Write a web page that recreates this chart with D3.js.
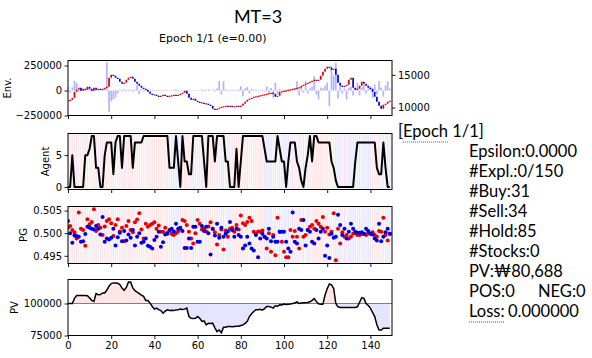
<!DOCTYPE html>
<html><head><meta charset="utf-8">
<script src="https://cdn.jsdelivr.net/npm/d3@7"></script>
<style>body{margin:0;background:#fff}svg{display:block}</style>
</head><body><svg id="c" width="592" height="358"></svg>
<script>
// ---------------- DATA ----------------
const closes = [11024,11177,11483,12400,12706,13012,12553,12859,12706,13165,
12859,12553,13012,12706,12859,12706,12859,13012,13165,14541,
15000,14847,14541,14388,13929,13624,13777,14235,14541,14694,
14388,13929,13624,13318,13012,12859,12706,12400,12095,11942,
11942,11789,11636,11789,11942,11789,11636,11789,11789,11942,
11789,11942,12095,12248,12553,12095,11483,11177,11330,11024,
10871,10719,10719,10566,10566,10413,10260,9801,9648,9801,
9954,10107,10107,10260,10107,10260,10107,10107,10260,10107,
10260,10566,10871,11177,11330,11483,11636,11636,11789,11789,
11942,11942,12095,12095,12248,12095,11636,11789,12400,12400,
12553,12553,12706,12706,12859,12859,13012,13012,13318,13471,
13624,13777,13929,14082,14235,14082,14235,14847,15458,15917,
16223,16070,15764,15917,15000,13777,13318,13165,13318,13471,
14235,14541,13012,12706,12859,13318,13929,13624,13318,13012,
12859,12400,11636,10871,10260,9801,10413,10566,10871,11024];

const volumes = [40000,-20000,30000,95000,77000,-15000,20000,10000,-10000,25000,
15000,-12000,20000,10000,-8000,12000,15000,20000,283000,-213000,
-107000,-90000,-70000,-30000,10000,-10000,12000,-8000,10000,8000,
-12000,10000,60000,-37000,15000,-10000,8000,5000,-8000,6000,
5000,-5000,8000,4000,-6000,7000,5000,3000,-4000,6000,
10000,-8000,5000,4000,3000,2000,5000,3000,4000,6000,
3000,5000,10000,-8000,6000,12000,4000,8000,-10000,20000,
95000,-40000,93000,10000,-8000,6000,8000,-6000,5000,10000,
43000,-57000,20000,35000,-30000,15000,10000,-8000,5000,4000,
8000,-10000,40000,-30000,25000,-73000,77000,-40000,15000,-10000,
8000,-15000,10000,5000,-8000,20000,93000,-50000,30000,-20000,
93000,-30000,20000,40000,143000,-40000,-90000,30000,20000,50000,
80000,-157000,243000,150000,277000,-80000,43000,-30000,20000,-90000,
30000,40000,-50000,20000,77000,-50000,30000,60000,-30000,20000,
40000,-73000,60000,-40000,93000,30000,-60000,50000,93000,20000];

const agentStocks = [0,0,5,0,0,0,0,0,5,5,
6,8,8,3,3,0,0,5,7,7,
7,2,7,8,8,3,8,8,8,8,
3,7,7,7,7,8,8,8,8,8,
8,8,8,8,8,8,8,3,3,3,
8,4,0,8,4,4,2,2,8,8,
8,8,8,4,0,8,8,8,4,8,
8,8,8,4,4,0,0,0,6,0,
4,8,8,8,8,8,8,8,8,8,
8,6,4,4,4,4,4,8,6,4,
4,0,4,7,7,7,4,3,1,0,
3,5,8,4,8,8,7,7,7,7,
7,7,4,3,1,0,0,0,0,0,
0,0,0,4,7,7,7,7,7,7,
7,7,7,3,2,2,7,3,0,0];

const pgBuy = [.5012,.5016,.5007,.5002,.4988,.5046,.5010,.5007,.4972,.5031,
.5020,.5025,.5053,.5005,.5018,.5012,.4996,.5015,.5027,.5031,
.5022,.4994,.5018,.5031,.5004,.5012,.4982,.5016,.5027,.5007,
.5002,.5024,.5030,.5044,.5008,.4988,.5021,.5014,.5018,.5021,
.5024,.5010,.5017,.5003,.5003,.5012,.5001,.5005,.4998,.4996,
.5000,.5004,.5010,.5029,.5027,.5018,.5003,.4988,.4977,.5000,
.5029,.5021,.5008,.5010,.5004,.5015,.5024,.5010,.5002,.4975,
.4996,.5008,.4964,.5006,.4992,.5010,.5012,.5003,.5018,.5008,
.5039,.5022,.5018,.5025,.5034,.5027,.5003,.4999,.5004,.5003,
.5006,.4992,.4966,.5000,.4959,.4996,.4951,.5034,.5003,.4981,
.4959,.4947,.4947,.5007,.4992,.5005,.4992,.4966,.5029,.4992,
.4996,.5007,.5014,.5018,.5010,.5027,.5021,.5014,.5036,.5003,
.5012,.4997,.5003,.5044,.4940,.5010,.4977,.5002,.4992,.4996,
.4988,.4992,.4999,.5000,.4996,.4996,.4998,.4999,.4996,.5000,
.4999,.5002,.4996,.4992,.5005,.5003,.5034,.4996,.4984,.4999];

const pgSell = [.5027,.5000,.4979,.4995,.4994,.4992,.4981,.4982,.4998,.5014,
.5012,.5010,.5008,.5016,.5010,.4997,.5036,.4981,.4988,.4986,
.4990,.5010,.4973,.4991,.5001,.4982,.5005,.4984,.4997,.4990,
.5007,.4973,.4992,.5000,.4979,.4981,.4988,.4972,.4970,.4966,
.4985,.4992,.5003,.4970,.4980,.4997,.4999,.5007,.5010,.5004,
.5021,.5010,.5012,.5005,.4967,.4967,.4988,.4967,.5014,.5014,
.4981,.4981,.5016,.5005,.5014,.5000,.4953,.5009,.4995,.5021,
.4990,.5012,.4992,.4999,.5004,.5025,.5007,.4992,.5010,.4996,
.4992,.4966,.4973,.4992,.4977,.4966,.4962,.4996,.4947,.4988,
.4999,.4992,.4988,.5010,.4982,.4992,.4981,.4981,.5003,.5003,
.5003,.4981,.4966,.4959,.5046,.4981,.4977,.5010,.5007,.5029,
.4973,.5007,.5003,.4981,.4977,.5007,.4988,.5003,.5010,.4950,
.4973,.4945,.4999,.4990,.4992,.5041,.5018,.4996,.5010,.4988,
.5003,.5021,.5010,.5003,.5001,.5001,.5002,.4999,.5010,.5005,
.4999,.4997,.4988,.4984,.5021,.4982,.4992,.5002,.5010,.4999];

const pvValues = [100000,100000,100000,104000,106300,106300,106300,106300,106300,106000,
104300,102500,101600,107700,106900,107000,108200,108200,110500,113500,
115600,116100,116100,115800,114800,112000,110300,112500,116700,116700,
112200,110000,108800,107700,106500,105600,102400,102400,100300,97700,
95600,96400,95200,94500,92400,94000,95000,94500,94700,94500,
95000,95200,95600,95400,95600,96400,89800,88500,88300,88500,
89800,88400,86000,86500,83300,84600,84300,84600,81000,78000,
79300,77200,81400,81400,82000,82000,81800,82000,82200,82300,
82800,83300,84500,86000,89800,92000,93800,95100,95100,95400,
94800,96000,97700,97700,97200,96400,98200,97800,99000,98800,
99500,99300,99500,99600,100000,100400,101300,100000,100400,100600,
100600,100800,101300,102500,103900,101500,99800,99500,99500,106600,
111500,115300,114500,111800,100000,97400,96900,96900,96900,96900,
96900,96900,96900,96900,97400,101000,104600,104000,100000,98400,
96400,93000,89800,83300,79300,79300,80700,80700,80700,80688];

const initialBalance = 100000;
const xTicks = [0,20,40,60,80,100,120,140];
const envLeftTicks = [-250000,0,250000];
const envRightTicks = [10000,15000];
const agentTicks = [0,5];
const pgTicks = [0.495,0.500,0.505];
const pvTicks = [75000,100000];
const titleText = "MT=3";
const subtitleText = "Epoch 1/1 (e=0.00)";
const epochLabel = "[Epoch 1/1]";
const infoLines = ["Epsilon:0.0000","#Expl.:0/150","#Buy:31","#Sell:34","#Hold:85","#Stocks:0","PV:\u20A980,688"];
const posText = "POS:0", negText = "NEG:0", lossLabel = "Loss:", lossValue = "0.000000";

// ---------------- DRAW ----------------
const svg = d3.select('#c');
const N = closes.length;
const idx = d3.range(N);
const x = d3.scaleLinear().domain([0,150]).range([68,392]);
const P = [
  {t:60.5,b:115.5},{t:133.5,b:189.5},{t:206.5,b:263.5},{t:279.5,b:335.5}
];
const TF = "DejaVu Sans, sans-serif";
const KF = "Lato,'Noto Sans',sans-serif";
const IS = 16.5;

const yEnvL = d3.scaleLinear().domain([-250000,300000]).range([P[0].b,P[0].t]);
const yEnvR = d3.scaleLinear().domain([8777,17190]).range([P[0].b,P[0].t]);
const yAg = d3.scaleLinear().domain([-0.4,8.4]).range([P[1].b,P[1].t]);
const yPG = d3.scaleLinear().domain([0.4933,0.5059]).range([P[2].b,P[2].t]);
const yPV = d3.scaleLinear().domain([75000,118750]).range([P[3].b,P[3].t]);

const defs = svg.append('defs');
P.forEach((p,i)=>{
  defs.append('clipPath').attr('id','clip'+i).append('rect')
    .attr('x',68).attr('y',p.t).attr('width',324).attr('height',p.b-p.t);
});
const layer = i => svg.append('g').attr('clip-path',`url(#clip${i})`);

// Panel 1: volume bars + candles
const g1 = layer(0);
g1.selectAll('rect.vol').data(idx).join('rect')
  .attr('x',d=>x(d)-0.85).attr('width',1.7)
  .attr('y',d=>Math.min(yEnvL(volumes[d]),yEnvL(0)))
  .attr('height',d=>Math.abs(yEnvL(volumes[d])-yEnvL(0)))
  .attr('fill','rgba(0,0,255,0.3)');
const openOf = d => d>0?closes[d-1]:closes[d];
g1.selectAll('line.cdl').data(idx).join('line')
  .attr('x1',d=>x(d)).attr('x2',d=>x(d))
  .attr('y1',d=>{const y0=yEnvR(openOf(d)),y1=yEnvR(closes[d]);return Math.abs(y0-y1)<1.2?(y0+y1)/2-0.6:y0;})
  .attr('y2',d=>{const y0=yEnvR(openOf(d)),y1=yEnvR(closes[d]);return Math.abs(y0-y1)<1.2?(y0+y1)/2+0.6:y1;})
  .attr('stroke',d=>closes[d]>=openOf(d)?'#e00000':'#0000d0')
  .attr('stroke-width',1.7);

// background action lines for panels 2 and 3
[1,2].forEach(pi=>{
  const g = layer(pi);
  g.selectAll('line').data(idx).join('line')
    .attr('x1',d=>x(d)).attr('x2',d=>x(d))
    .attr('y1',P[pi].t).attr('y2',P[pi].b)
    .attr('stroke',d=>pgBuy[d]>pgSell[d]?'rgba(255,0,0,0.1)':'rgba(0,0,255,0.1)')
    .attr('stroke-width',1.4);
});

// Panel 2: agent line
layer(1).append('path').datum(idx)
  .attr('d',d3.line().x(d=>x(d)).y(d=>yAg(agentStocks[d])))
  .attr('fill','none').attr('stroke','#000').attr('stroke-width',2)
  .attr('stroke-linejoin','round');

// Panel 3: PG dots
const g3 = layer(2);
g3.selectAll('circle.b').data(idx).join('circle')
  .attr('cx',d=>x(d)).attr('cy',d=>yPG(pgBuy[d])).attr('r',2).attr('fill','#e80000');
g3.selectAll('circle.s').data(idx).join('circle')
  .attr('cx',d=>x(d)).attr('cy',d=>yPG(pgSell[d])).attr('r',2).attr('fill','#0000e0');

// Panel 4: PV
const g4 = layer(3);
g4.append('path').datum(idx)
  .attr('d',d3.area().x(d=>x(d)).y0(yPV(initialBalance)).y1(d=>yPV(Math.max(pvValues[d],initialBalance))))
  .attr('fill','rgba(255,0,0,0.1)');
g4.append('path').datum(idx)
  .attr('d',d3.area().x(d=>x(d)).y0(yPV(initialBalance)).y1(d=>yPV(Math.min(pvValues[d],initialBalance))))
  .attr('fill','rgba(0,0,255,0.1)');
g4.append('line').attr('x1',68).attr('x2',392)
  .attr('y1',yPV(initialBalance)).attr('y2',yPV(initialBalance))
  .attr('stroke','#808080').attr('stroke-width',1.2);
g4.append('path').datum(idx)
  .attr('d',d3.line().x(d=>x(d)).y(d=>yPV(pvValues[d])))
  .attr('fill','none').attr('stroke','#000').attr('stroke-width',1.5);

// Axes
function styleAxis(g){
  g.select('.domain').remove();
  g.selectAll('.tick line').attr('stroke','#000').attr('stroke-width',0.9);
  g.selectAll('.tick text').attr('font-family',TF).attr('font-size',10).attr('fill','#000');
}
const fmtMinus = v => (v<0?'\u2212':'')+Math.abs(v);
P.forEach((p,i)=>{
  const ax = d3.axisBottom(x).tickValues(xTicks).tickSize(3.5).tickPadding(2.5)
    .tickFormat(i===3? d3.format('d') : ()=> '');
  svg.append('g').attr('transform',`translate(0,${p.b})`).call(ax).call(styleAxis);
});
svg.append('g').attr('transform','translate(68,0)')
  .call(d3.axisLeft(yEnvL).tickValues(envLeftTicks).tickSize(3.5).tickPadding(2.5).tickFormat(fmtMinus)).call(styleAxis);
svg.append('g').attr('transform','translate(392,0)')
  .call(d3.axisRight(yEnvR).tickValues(envRightTicks).tickSize(3.5).tickPadding(2.5).tickFormat(d3.format('d'))).call(styleAxis);
svg.append('g').attr('transform','translate(68,0)')
  .call(d3.axisLeft(yAg).tickValues(agentTicks).tickSize(3.5).tickPadding(2.5).tickFormat(d3.format('d'))).call(styleAxis);
svg.append('g').attr('transform','translate(68,0)')
  .call(d3.axisLeft(yPG).tickValues(pgTicks).tickSize(3.5).tickPadding(2.5).tickFormat(d3.format('.3f'))).call(styleAxis);
svg.append('g').attr('transform','translate(68,0)')
  .call(d3.axisLeft(yPV).tickValues(pvTicks).tickSize(3.5).tickPadding(2.5).tickFormat(d3.format('d'))).call(styleAxis);

// frames
P.forEach(p=>{
  svg.append('rect').attr('x',68).attr('y',p.t).attr('width',324).attr('height',p.b-p.t)
    .attr('fill','none').attr('stroke','#000').attr('stroke-width',1);
});

// y labels
const ylab = [["Env.",7,0],["Agent",45,1],["PG",23,2],["PV",14,3]];
ylab.forEach(([t,cx,pi])=>{
  const cy=(P[pi].t+P[pi].b)/2;
  svg.append('text').attr('transform',`translate(${cx},${cy}) rotate(-90)`)
    .attr('text-anchor','middle').attr('dy','0.35em')
    .attr('font-family',TF).attr('font-size',10).text(t);
});

// titles
svg.append('text').attr('x',258).attr('y',23).attr('text-anchor','middle')
  .attr('font-family',KF).attr('font-size',18).text(titleText);
svg.append('text').attr('x',159).attr('y',41.5)
  .attr('font-family',TF).attr('font-size',11).text(subtitleText);

// info block
const ep = svg.append('text').attr('x',398).attr('y',137)
  .attr('font-family',KF).attr('font-size',IS).text(epochLabel);
infoLines.forEach((t,i)=>{
  svg.append('text').attr('x',469).attr('y',157+i*20)
    .attr('font-family',KF).attr('font-size',IS).text(t);
});
svg.append('text').attr('x',469).attr('y',297).attr('font-family',KF).attr('font-size',IS).text(posText);
svg.append('text').attr('x',538).attr('y',297).attr('font-family',KF).attr('font-size',IS).text(negText);
const ls = svg.append('text').attr('x',469).attr('y',317).attr('font-family',KF).attr('font-size',IS).text(lossLabel);
svg.append('text').attr('x',508).attr('y',317).attr('font-family',KF).attr('font-size',IS).text(lossValue);

// spell-check style dotted underlines
try{
  const n = ep.node();
  const sx = n.getStartPositionOfChar(1).x, w = n.getSubStringLength(1,5);
  svg.append('line').attr('x1',sx).attr('x2',sx+w).attr('y1',142).attr('y2',142)
    .attr('stroke','#d03030').attr('stroke-width',1).attr('stroke-dasharray','1,1');
  const lw = ls.node().getComputedTextLength();
  svg.append('line').attr('x1',469).attr('x2',469+lw).attr('y1',322).attr('y2',322)
    .attr('stroke','#d03030').attr('stroke-width',1).attr('stroke-dasharray','1,1');
}catch(e){}
</script></body></html>
